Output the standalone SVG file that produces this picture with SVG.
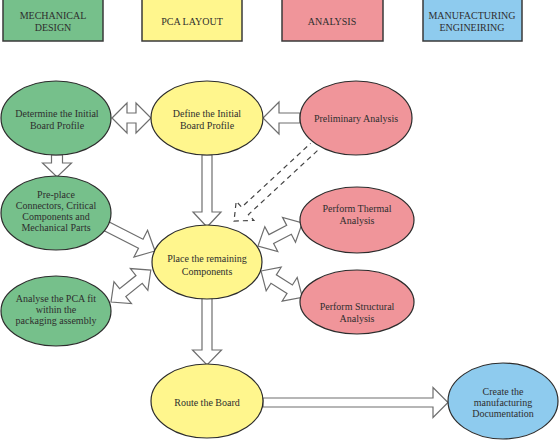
<svg xmlns="http://www.w3.org/2000/svg" width="560" height="440" viewBox="0 0 560 440">
<style>
text{font-family:"Liberation Serif","Times New Roman",serif;font-size:10px;fill:#2e2e2e;text-anchor:middle}
.hdr{stroke:#3a3a3a;stroke-width:1.5}
.el{stroke:#2c2c2c;stroke-width:1.2}
.g{fill:#76c08b}.y{fill:#fff68d}.p{fill:#f0959a}.b{fill:#8ecbee}
.arr{fill:#fff;stroke:#6e6e6e;stroke-width:1.2;stroke-linejoin:miter}
.dash{fill:none;stroke:#444;stroke-width:1.2;stroke-dasharray:5,4}
</style>
<rect width="560" height="440" fill="#fff"/>
<g id="hdr-mech"><rect class="hdr g" x="3" y="-1" width="100" height="42"/><text x="53" y="19">MECHANICAL</text><text x="53" y="31">DESIGN</text></g>
<g id="hdr-pca"><rect class="hdr y" x="142" y="-1" width="100" height="42"/><text x="192" y="25">PCA LAYOUT</text></g>
<g id="hdr-analysis"><rect class="hdr p" x="282" y="-1" width="101" height="42"/><text x="332" y="25">ANALYSIS</text></g>
<g id="hdr-mfg"><rect class="hdr b" x="423" y="-1" width="99" height="42"/><text x="472" y="19">MANUFACTURING</text><text x="472" y="31">ENGINEIRING</text></g>

<g id="connectors">
<path class="arr" transform="translate(112,118)" d="M0,0 L15,-15 L15,-5 L24,-5 L24,-15 L39,0 L24,15 L24,5 L15,5 L15,15 Z"/>
<path class="arr" transform="translate(300,118) rotate(180)" d="M0,-5 L21,-5 L21,-16 L37,0 L21,16 L21,5 L0,5 Z"/>
<path class="arr" transform="translate(57,155) rotate(90)" d="M0,-5.5 L8,-5.5 L8,-14.5 L22,0 L8,14.5 L8,5.5 L0,5.5 Z"/>
<path class="arr" transform="translate(207,155) rotate(90)" d="M0,-5 L57,-5 L57,-14 L72,0 L57,14 L57,5 L0,5 Z"/>
<path class="arr" transform="translate(106,226) rotate(27)" d="M0,-5 L39,-5 L39,-15 L55,0 L39,15 L39,5 L0,5 Z"/>
<path class="arr" transform="translate(111,302) rotate(-38.7)" d="M0,0 L15,-14 L15,-5 L36,-5 L36,-14 L51,0 L36,14 L36,5 L15,5 L15,14 Z"/>
<path class="arr" transform="translate(258,246) rotate(-27.6)" d="M0,0 L15,-14 L15,-5 L35,-5 L35,-14 L50,0 L35,14 L35,5 L15,5 L15,14 Z"/>
<path class="arr" transform="translate(261,271) rotate(32.4)" d="M0,0 L15,-14 L15,-5 L34,-5 L34,-14 L49,0 L34,14 L34,5 L15,5 L15,14 Z"/>
<path class="arr" transform="translate(207,298) rotate(90)" d="M0,-5 L52,-5 L52,-14.5 L67,0 L52,14.5 L52,5 L0,5 Z"/>
<path class="arr" transform="translate(263,402.5)" d="M0,-4.5 L170,-4.5 L170,-15 L185,0 L170,15 L170,4.5 L0,4.5 Z"/>
<path class="dash" transform="translate(314,147) rotate(137.2)" d="M0,-5 L94,-5 L94,-13 L109,0 L94,13 L94,5 L0,5"/>
</g>

<g id="n-determine"><ellipse class="el g" cx="56" cy="118" rx="55" ry="37"/><text x="57" y="117">Determine the  Initial</text><text x="57" y="129">Board Profile</text></g>
<g id="n-define"><ellipse class="el y" cx="207" cy="118" rx="56" ry="37"/><text x="207" y="117">Define the  Initial</text><text x="207" y="129">Board Profile</text></g>
<g id="n-prelim"><ellipse class="el p" cx="356" cy="118" rx="56" ry="37"/><text x="356" y="122">Preliminary  Analysis</text></g>
<g id="n-preplace"><ellipse class="el g" cx="56" cy="213" rx="55" ry="37"/><text x="56" y="198">Pre-place</text><text x="56" y="209">Connectors, Critical</text><text x="56" y="220">Components and</text><text x="56" y="231">Mechanical Parts</text></g>
<g id="n-place"><ellipse class="el y" cx="207" cy="262" rx="55" ry="37"/><text x="207" y="262">Place the remaining</text><text x="207" y="275">Components</text></g>
<g id="n-thermal"><ellipse class="el p" cx="357" cy="220" rx="57" ry="33"/><text x="357" y="212">Perform  Thermal</text><text x="357" y="224">Analysis</text></g>
<g id="n-structural"><ellipse class="el p" cx="357" cy="302" rx="57" ry="32"/><text x="357" y="310">Perform  Structural</text><text x="357" y="322">Analysis</text></g>
<g id="n-analyse"><ellipse class="el g" cx="56" cy="311" rx="55" ry="35"/><text x="56" y="302">Analyse the PCA fit</text><text x="56" y="313">within the</text><text x="56" y="324">packaging assembly</text></g>
<g id="n-route"><ellipse class="el y" cx="207" cy="401" rx="56" ry="37"/><text x="207" y="406">Route the Board</text></g>
<g id="n-create"><ellipse class="el b" cx="503" cy="401" rx="55" ry="38"/><text x="503" y="395">Create the</text><text x="503" y="406">manufacturing</text><text x="503" y="417">Documentation</text></g>
</svg>
